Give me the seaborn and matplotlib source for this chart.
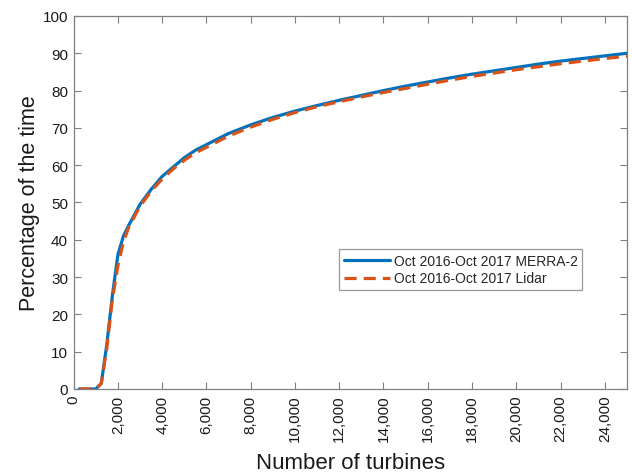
import matplotlib
matplotlib.use("Agg")
import matplotlib.pyplot as plt
import seaborn as sns
import pandas as pd
from matplotlib.ticker import FuncFormatter

turbines = [250, 500, 750, 1000, 1250, 1500, 1750, 2000, 2250, 2500, 3000, 3500,
            4000, 4500, 5000, 5500, 6000, 7000, 8000, 9000, 10000, 11000, 12000,
            13000, 14000, 15000, 16000, 17000, 18000, 19000, 20000, 21000, 22000,
            23000, 24000, 25000]

merra2 = [0, 0, 0, 0, 1.5, 12, 25, 36, 41, 44, 49.5, 53.5,
          57, 59.5, 62, 64, 65.5, 68.5, 70.8, 72.8, 74.5, 76, 77.4,
          78.7, 80, 81.2, 82.3, 83.4, 84.4, 85.3, 86.2, 87.1, 87.9,
          88.6, 89.3, 90.0]

lidar = [0, 0, 0, 0, 1.5, 11, 24, 33, 39.5, 43.5, 49, 53,
         56.3, 59, 61.3, 63.3, 64.8, 67.8, 70.2, 72.3, 74.1, 75.7, 77.0,
         78.3, 79.5, 80.6, 81.7, 82.8, 83.8, 84.7, 85.6, 86.4, 87.2,
         87.9, 88.6, 89.2]

label_merra = "Oct 2016-Oct 2017 MERRA-2"
label_lidar = "Oct 2016-Oct 2017 Lidar"

x_ticks = list(range(0, 25000, 2000))
y_ticks = list(range(0, 101, 10))

sns.set_theme(style="ticks")
plt.rcParams["font.family"] = ["Liberation Sans", "DejaVu Sans"]

df = pd.DataFrame({
    "turbines": turbines * 2,
    "pct": merra2 + lidar,
    "series": [label_merra] * len(turbines) + [label_lidar] * len(turbines),
})

fig = plt.figure(figsize=(6.32, 4.77), dpi=100)
ax = fig.add_axes([0.1165, 0.1824, 0.8755, 0.782])

sns.lineplot(data=df, x="turbines", y="pct", hue="series", style="series",
             palette=["#0072BD", "#D95319"],
             dashes=[(None, None), (3.8, 2.2)], linewidth=2.3, ax=ax,
             legend=True)
# draw the MERRA-2 curve beneath the dashed Lidar curve
lines = ax.get_lines()
lines[0].set_zorder(2)
lines[1].set_zorder(3)

ax.set_xlim(0, 25000)
ax.set_ylim(0, 100)
ax.set_xticks(x_ticks)
ax.set_yticks(y_ticks)
ax.xaxis.set_major_formatter(FuncFormatter(lambda v, p: f"{int(v):,}"))
ax.tick_params(axis="x", labelrotation=90)
ax.tick_params(direction="in", length=5, width=0.8, color="#808080",
               labelsize=11, labelcolor="#1a1a1a", top=True, right=True, pad=4)
for s in ax.spines.values():
    s.set_visible(True)
    s.set_color("#808080")
    s.set_linewidth(0.9)

ax.set_xlabel("Number of turbines", fontsize=16, color="#1a1a1a", labelpad=8)
ax.set_ylabel("Percentage of the time", fontsize=15.5, color="#1a1a1a", labelpad=2)

leg = ax.legend(loc="center", bbox_to_anchor=(0.70, 0.32), fontsize=10,
                frameon=True, fancybox=False, handlelength=3.3,
                borderpad=0.35, labelspacing=0.25, handletextpad=0.25,
                borderaxespad=0)
leg.get_frame().set_edgecolor("#808080")
leg.get_frame().set_linewidth(0.9)

fig.savefig("out.png", dpi=100, facecolor="white")
